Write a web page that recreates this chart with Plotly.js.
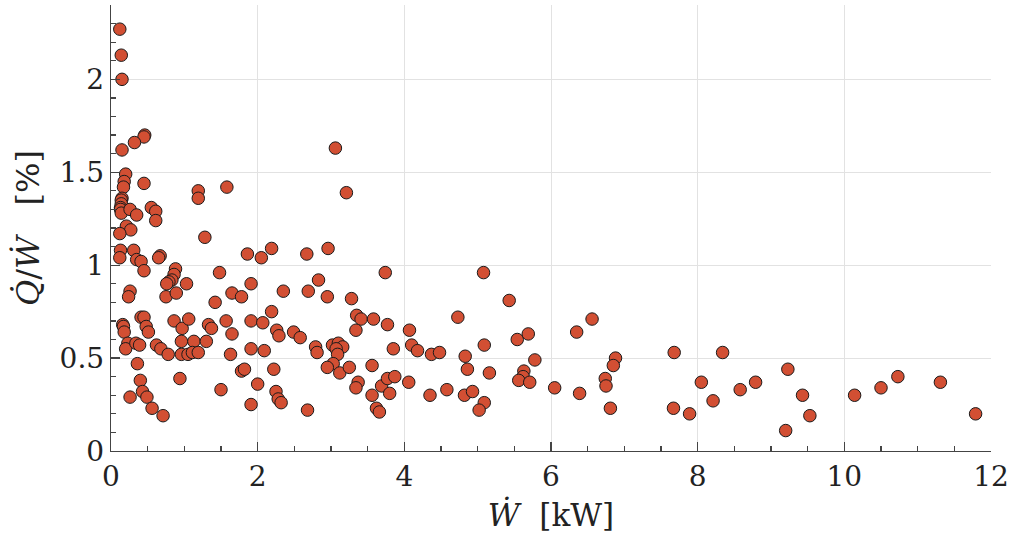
<!DOCTYPE html>
<html>
<head>
<meta charset="utf-8">
<script src="https://cdn.plot.ly/plotly-3.0.1.min.js"></script>
<style>html,body{margin:0;padding:0;background:#fff;}#chart{width:1013px;height:542px;}</style>
</head>
<body>
<div id="chart"></div>
<script>
// Electrical power W [kW]
const powerKW = [
  0.12, 0.14, 0.15,
  0.46, 0.45, 0.32, 0.15, 0.20, 0.18, 0.17, 0.45, 1.19, 1.19, 1.58,
  0.15, 0.14, 0.14, 0.13, 0.13, 0.14, 0.26, 0.35, 0.55, 0.61, 0.61,
  0.21, 0.27, 0.12, 1.28, 0.13, 0.31, 0.12, 1.86, 2.05, 0.67, 0.65, 0.35, 0.41,
  0.45, 0.88, 0.86, 0.83, 0.79, 0.76, 1.03, 1.48, 0.26, 0.24, 0.75, 0.89, 1.65, 1.78, 1.91, 1.42,
  0.41, 0.45, 0.48, 0.51, 0.16, 0.17, 0.18, 0.86, 0.97, 1.06, 1.33, 1.37, 1.57, 1.65, 1.91, 2.07,
  0.23, 0.20, 0.34, 0.39, 0.62, 0.68, 0.78, 0.96, 1.13, 1.30, 0.96, 1.05, 1.11, 1.19, 1.63, 1.91, 2.09,
  0.36, 0.40, 0.43, 0.49, 0.26, 0.56, 0.71, 0.94, 1.50, 1.78, 1.82, 2.00, 1.91,
  3.06, 3.21,
  2.19, 2.67, 2.96, 3.74, 2.83, 2.35, 2.69, 2.95, 3.28, 2.19, 2.26, 2.29, 2.49, 2.58,
  3.35, 3.41, 3.58, 3.77, 3.34, 4.07, 4.10, 4.18, 4.37, 3.85, 2.79, 2.81,
  3.02, 3.10, 3.16, 3.07, 3.09, 3.03, 2.95, 3.12, 3.25, 3.56, 2.22,
  3.37, 3.34, 3.69, 3.77, 3.87, 4.06, 3.56, 3.80, 3.62, 3.66, 4.35, 2.25, 2.28, 2.32, 2.68,
  5.08, 5.43, 4.73, 6.56, 6.35, 5.54, 5.69, 5.09, 5.78, 4.48, 4.83, 4.86, 5.16,
  5.63, 5.62, 5.56, 5.71, 6.05, 6.39, 4.58, 4.82, 4.93, 5.09, 5.02, 6.74, 6.75, 6.81,
  6.88, 6.85, 7.68, 8.34, 7.67, 7.89, 8.05, 8.21, 8.58, 8.79, 9.23, 9.43, 9.53, 9.20,
  10.14, 10.50, 10.73, 11.31, 11.79
];
// Heat-to-power ratio Q/W [%]
const ratioPct = [
  2.27, 2.13, 2.00,
  1.70, 1.69, 1.66, 1.62, 1.49, 1.45, 1.42, 1.44, 1.40, 1.36, 1.42,
  1.36, 1.35, 1.33, 1.31, 1.30, 1.28, 1.30, 1.27, 1.31, 1.29, 1.24,
  1.21, 1.19, 1.17, 1.15, 1.08, 1.08, 1.04, 1.06, 1.04, 1.05, 1.04, 1.03, 1.02,
  0.97, 0.98, 0.95, 0.92, 0.91, 0.90, 0.90, 0.96, 0.86, 0.83, 0.83, 0.85, 0.85, 0.83, 0.90, 0.80,
  0.72, 0.72, 0.67, 0.64, 0.68, 0.67, 0.64, 0.70, 0.66, 0.71, 0.68, 0.66, 0.70, 0.63, 0.70, 0.69,
  0.58, 0.55, 0.58, 0.57, 0.57, 0.55, 0.52, 0.59, 0.59, 0.59, 0.52, 0.52, 0.53, 0.53, 0.52, 0.55, 0.54,
  0.47, 0.38, 0.32, 0.29, 0.29, 0.23, 0.19, 0.39, 0.33, 0.43, 0.44, 0.36, 0.25,
  1.63, 1.39,
  1.09, 1.06, 1.09, 0.96, 0.92, 0.86, 0.86, 0.83, 0.82, 0.75, 0.65, 0.62, 0.64, 0.61,
  0.73, 0.71, 0.71, 0.68, 0.65, 0.65, 0.57, 0.54, 0.52, 0.55, 0.56, 0.53,
  0.57, 0.58, 0.56, 0.55, 0.52, 0.47, 0.45, 0.42, 0.45, 0.46, 0.44,
  0.37, 0.34, 0.35, 0.39, 0.40, 0.37, 0.30, 0.31, 0.23, 0.21, 0.30, 0.32, 0.28, 0.26, 0.22,
  0.96, 0.81, 0.72, 0.71, 0.64, 0.60, 0.63, 0.57, 0.49, 0.53, 0.51, 0.44, 0.42,
  0.43, 0.40, 0.38, 0.37, 0.34, 0.31, 0.33, 0.30, 0.32, 0.26, 0.22, 0.39, 0.35, 0.23,
  0.50, 0.46, 0.53, 0.53, 0.23, 0.20, 0.37, 0.27, 0.33, 0.37, 0.44, 0.30, 0.19, 0.11,
  0.30, 0.34, 0.40, 0.37, 0.20
];
const xTickVals = [0, 2, 4, 6, 8, 10, 12];
const yTickVals = [0, 0.5, 1, 1.5, 2];
const yTickText = ['0', '0.5', '1', '1.5', '2'];

const font = 'DejaVu Serif, Liberation Serif, serif';
const axisCommon = {
  showline: true, linecolor: '#444', linewidth: 1.3,
  ticks: 'inside', ticklen: 9, tickwidth: 1.2, tickcolor: '#444',
  showgrid: true, gridcolor: '#e2e2e2', gridwidth: 1,
  zeroline: false, mirror: false,
  tickfont: {family: font, size: 28, color: '#222'}
};

Plotly.newPlot('chart', [{
  type: 'scatter', mode: 'markers',
  x: powerKW, y: ratioPct,
  marker: {size: 12.5, color: '#d24f33', line: {color: '#1a1a1a', width: 1}}
}], {
  width: 1013, height: 542,
  margin: {l: 111, r: 22, t: 5, b: 91},
  paper_bgcolor: '#fff', plot_bgcolor: '#fff',
  showlegend: false,
  xaxis: Object.assign({}, axisCommon, {
    range: [0, 12], tickvals: xTickVals,
    minor: {dtick: 0.5, ticks: 'inside', ticklen: 5, tickcolor: '#444', showgrid: false},
    title: {text: '<i>Ẇ</i>\u00A0\u00A0[kW]', font: {family: font, size: 31, color: '#222'}, standoff: 12}
  }),
  yaxis: Object.assign({}, axisCommon, {
    range: [0, 2.4], tickvals: yTickVals, ticktext: yTickText,
    minor: {dtick: 0.1, ticks: 'inside', ticklen: 5, tickcolor: '#444', showgrid: false},
    title: {text: '<i>Q̇</i>/<i>Ẇ</i>\u00A0\u00A0\u00A0[%]', font: {family: font, size: 32, color: '#222'}, standoff: 10}
  })
}, {displayModeBar: false, staticPlot: true});
</script>
</body>
</html>
